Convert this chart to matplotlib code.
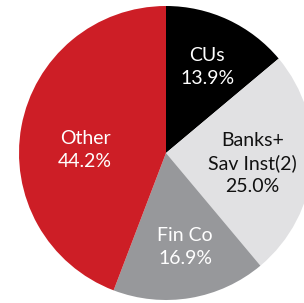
import matplotlib
matplotlib.use("Agg")
import matplotlib.pyplot as plt

categories = ["CUs", "Banks+\nSav Inst(2)", "Fin Co", "Other"]
shares = [13.9, 25.0, 16.9, 44.2]

colors = ["#000000", "#E1E1E3", "#97989B", "#CD1E26"]
text_colors = ["white", "#111111", "white", "white"]
label_pos = [(0.28, 0.585), (0.59, -0.07), (0.13, -0.64), (-0.55, 0.02)]

plt.rcParams['font.family'] = ['Lato', 'DejaVu Sans']

fig = plt.figure(figsize=(3.04, 3.03), dpi=100)
cx, cy, r = 166, 153, 147
ax = fig.add_axes([(cx - r) / 304, (303 - cy - r) / 303, 2 * r / 304, 2 * r / 303])
ax.pie(shares, colors=colors, startangle=90, counterclock=False,
       wedgeprops=dict(linewidth=0), radius=1)
ax.set_xlim(-1, 1)
ax.set_ylim(-1, 1)
ax.set_aspect('auto')
ax.axis('off')

for cat, val, tc, (x, y) in zip(categories, shares, text_colors, label_pos):
    ax.text(x, y, f"{cat}\n{val:.1f}%", ha='center', va='center', color=tc,
            fontsize=14, linespacing=1.4)

fig.savefig("out.png", dpi=100)
